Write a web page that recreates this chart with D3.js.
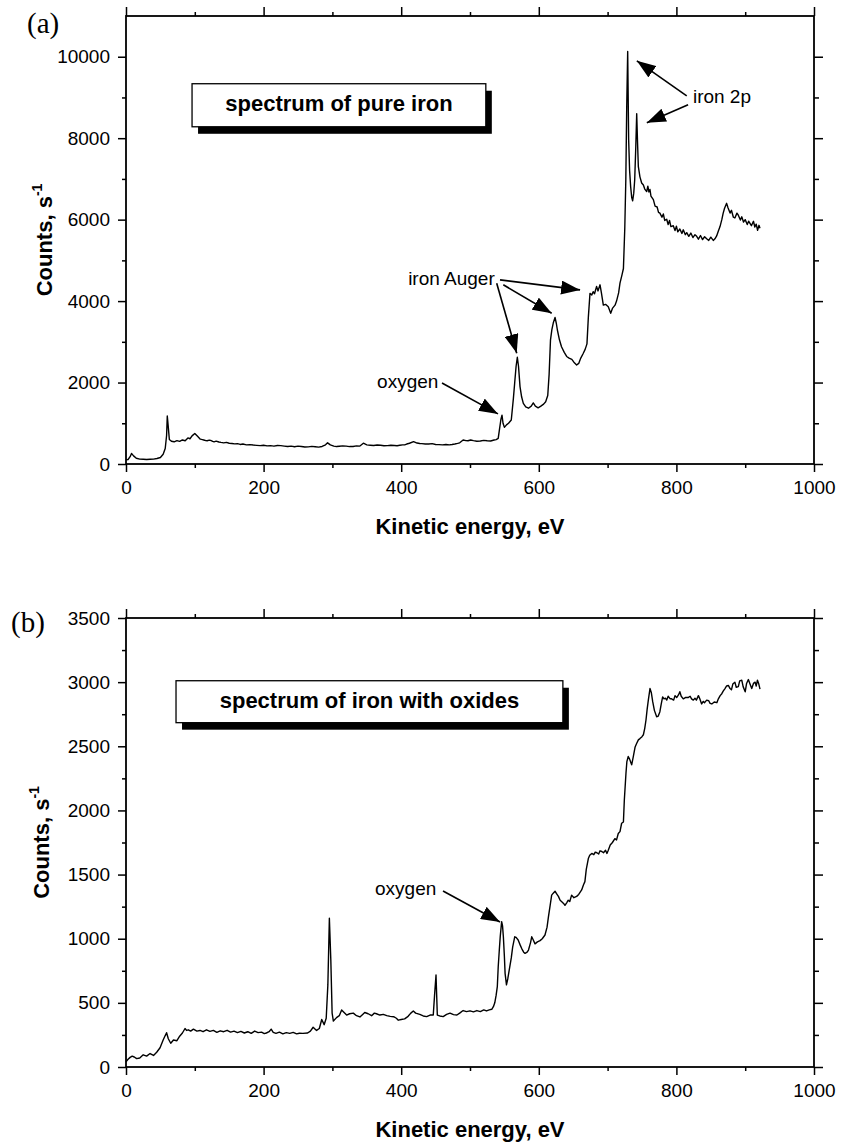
<!DOCTYPE html>
<html>
<head>
<meta charset="utf-8">
<script src="https://cdn.jsdelivr.net/npm/d3@7"></script>
<style>
  html, body { margin: 0; padding: 0; background: #fff; }
  svg { display: block; }
  .tick text { font-family: "Liberation Sans", Arial, sans-serif; font-size: 19px; fill: #000; }
  .tick line { stroke: #000; stroke-width: 1.5; }
</style>
</head>
<body>
<svg id="fig" width="841" height="1148"></svg>
<script>
// ---- Spectrum (a): pure iron — kinetic energy (eV) and count rate (s^-1)
const energyA = [0,3,6,8,11,15,20,25,30,35,40,45,50,54,57,59,60,61.5,63,66,70,74,78,82,86,90,93,96,100,104,108,111,113,116,118,121,123,126,128,131,135,138,142,146,150,154,158,162,166,170,175,180,185,190,195,200,205,210,215,220,225,230,235,240,245,250,255,260,265,270,275,280,285,290,293,297,302,306,310,315,320,325,330,335,340,345,350,355,360,365,370,375,380,385,390,394,398,402,405,408,412,418,423,427,430,435,440,445,450,455,460,465,470,474,478,482,485,490,494,497,501,505,510,515,520,525,530,535,538,541,543,545,546.5,548,550,553,556,560,563,565,567,568.8,570.5,572.7,575,577.5,581,585,589,592,595,599,603,607,610,613,615,617,619,621,623.6,625.5,627,630,633,637,640.5,644,648,651,655,658,661,664.7,667.5,670,672,674.4,677,679,681,684,686,689,691,693.8,697,701,704.5,707,710.8,713,716,718,721,723,725,726.5,727.8,729.2,730.6,732,733.5,735,736.4,738,739.4,741,742.3,743.5,744.7,747,749.5,752,754,756.8,758.5,760,761.6,763,766.5,769,772,774,776,779,781,783,785.9,788,790,792,795.5,798,800,802,805,808,810,813,815,818,821,824,827,829.5,832,835,838,841,844,847,850,853.6,856,858.5,861,863.4,866,868,870,873,875,878,880,882.8,885,888,890,893,895,897.5,900,903,905,907,909,912,914,916,918,920,921.5];
const countsA = [100,110,180,260,200,140,120,115,110,118,120,135,160,240,380,700,1180,900,600,560,545,575,555,590,570,640,620,690,750,680,610,600,590,575,570,585,580,555,545,560,540,530,520,530,510,505,495,500,480,490,470,475,465,458,450,460,445,452,440,455,450,440,430,440,425,438,430,418,420,432,425,415,430,470,520,470,440,428,435,445,440,428,430,445,440,510,470,462,455,465,460,448,450,462,455,448,460,470,470,490,510,550,515,505,500,490,490,500,480,475,470,480,470,478,490,505,520,590,575,570,590,575,560,565,580,570,565,590,600,630,870,1100,1200,1000,900,960,1000,1080,1600,2000,2400,2620,2400,1900,1650,1490,1400,1370,1420,1500,1420,1380,1420,1470,1530,1680,2200,3050,3300,3460,3600,3450,3290,3050,2880,2740,2640,2600,2570,2500,2430,2470,2600,2720,2820,2950,3600,4190,4150,4230,4180,4360,4250,4400,4200,3900,3920,3860,3700,3820,3900,4000,4200,4440,4650,4800,5800,7000,8780,10130,7960,7200,6810,6550,6460,6650,6980,7800,8600,7900,7300,7050,6900,6850,6750,6690,6820,6680,6740,6580,6490,6330,6310,6180,6160,6060,6140,5980,6010,5880,5980,5830,5850,5730,5840,5700,5770,5660,5750,5630,5680,5590,5670,5560,5630,5590,5520,5610,5510,5580,5530,5490,5570,5490,5530,5600,5720,5830,6000,6160,6280,6400,6290,6160,6230,6060,6040,6160,6110,5990,6070,5940,6000,5880,5960,5910,5850,5960,5820,5890,5740,5860,5790];

// ---- Spectrum (b): iron with oxides
const energyB = [0,3,6,9,12,15.5,20,25,30,35,40,44.6,49.5,54,57,59,61.5,65,69,74,78,82,85.8,88,90.6,94,98,103,107.6,112,117,122,127,132,137,142,147,152,157,162,167,172,177,182,187,192,197,201,204,208,211,214,218,223,228,233,238,243,248,252,257,264,268,272,275,277,281,284.5,288,291,293.4,295.6,297.7,299.6,301.4,306,310,313.4,317,320.7,325,330.4,335,340,344,347,352,357,361,364,369,374,379,384,389,393,395.8,400,405,410,414,417.6,421,427,432,437,442,446.6,448.5,450.6,452.5,456,461,466,471,476,481,485,490,495,500,505,510,515,520,524,528,531.6,534,536,538,539.7,541,542.6,544,546,547.3,548.5,550,551,553,555,557,560,562,565,567,570,573,575,578,580,583,585,588,589.7,592,594.5,598,601.8,605,609,612,614,616.5,618.7,621,623.6,626,628.5,631,633,636,638,640.5,642.8,645,647.7,651,655,658,662.3,665,667,669,672,674,677,680,682,684.4,687,689,691.6,694,697,699,701,703.8,707,710.6,713,715.5,718,720.4,723,724.3,726.7,728,730,732,735,737,740,742,744.7,747,750,752,754,755.8,757.5,759.2,761.6,763.5,765.5,768,771.3,773.5,776,778,780,782,784,786,788,791,793,796,798,800.4,803,805,807,810,813,817,820,822,824.6,827,829,832,834,836.7,839,841,844,847,849,851.5,855,858.8,861,863.6,866,868,870.6,873,875.5,878,880,882,885,887,890,892,895,897,900,902,904.6,907,909.5,912,914.4,916,917.8,919.5,921.5];
const countsB = [41,60,75,85,78,65,70,95,85,105,90,115,150,210,245,267,220,185,210,205,240,265,300,285,290,280,295,280,285,275,290,278,285,270,282,275,286,272,280,268,278,265,275,262,280,268,272,260,265,275,295,270,262,272,258,268,262,270,258,263,262,265,280,310,295,285,300,370,330,380,640,1160,835,420,358,385,400,445,425,405,415,420,400,390,410,425,415,400,420,415,405,410,400,395,392,380,365,370,375,395,420,437,420,410,398,393,405,405,560,717,405,398,393,410,420,408,405,420,440,432,438,430,440,432,445,437,445,450,470,500,560,626,780,912,1020,1133,1100,1015,860,730,640,690,755,850,935,1015,1010,990,950,925,895,886,895,912,970,1015,990,960,975,985,1000,1029,1090,1170,1260,1340,1355,1370,1350,1330,1300,1290,1275,1260,1280,1300,1290,1340,1320,1330,1345,1380,1420,1445,1540,1625,1650,1665,1655,1675,1670,1660,1685,1680,1670,1690,1665,1690,1730,1750,1780,1770,1820,1835,1900,1910,2080,2290,2380,2420,2400,2355,2410,2495,2520,2550,2560,2575,2590,2640,2705,2790,2860,2950,2920,2850,2780,2730,2735,2770,2830,2885,2870,2875,2860,2890,2870,2870,2860,2895,2880,2900,2925,2890,2870,2880,2880,2890,2870,2860,2875,2860,2895,2870,2830,2850,2840,2860,2855,2835,2830,2845,2840,2870,2895,2910,2930,2950,2970,2975,2950,2940,2985,3000,2960,2965,3010,3015,2965,2925,2990,3020,2985,2950,2990,3000,2970,3015,2990,2945];

// ---- Axis tick values
const xMajorTicks = [0, 200, 400, 600, 800, 1000];
const xMinorTicks = [100, 300, 500, 700, 900];
const yMajorTicksA = [0, 2000, 4000, 6000, 8000, 10000];
const yMinorTicksA = [1000, 3000, 5000, 7000, 9000];
const yMajorTicksB = [0, 500, 1000, 1500, 2000, 2500, 3000, 3500];
const yMinorTicksB = [250, 750, 1250, 1750, 2250, 2750, 3250];

// ---- Annotations: [label, text x (eV), text baseline (counts), anchor]
const notesA = [
  ["iron 2p", 824, 8870, "start"],
  ["iron Auger", 536, 4400, "end"],
  ["oxygen", 365, 1870, "start"]
];
// arrows: [tail eV, tail counts, tip eV, tip counts]
const arrowsA = [
  [815, 9040, 742.5, 9900],
  [817, 8820, 757, 8380],
  [543.6, 4520, 660, 4275],
  [548.4, 4400, 618.7, 3700],
  [538.8, 4440, 567.9, 2720],
  [459.3, 1990, 540.7, 1230]
];
const notesB = [
  ["oxygen", 362, 1341, "start"]
];
const arrowsB = [
  [460.8, 1372, 543.6, 1130]
];

const FONT = '"Liberation Sans", Arial, Helvetica, sans-serif';
const svg = d3.select("#fig");
svg.append("rect").attr("width", 841).attr("height", 1148).attr("fill", "#fff");

const defs = svg.append("defs");
defs.append("marker")
  .attr("id", "head")
  .attr("markerUnits", "userSpaceOnUse")
  .attr("markerWidth", 20).attr("markerHeight", 14)
  .attr("refX", 19).attr("refY", 7)
  .attr("orient", "auto")
  .append("path")
  .attr("d", "M0,0 L19,7 L0,14 Z")
  .attr("fill", "#000");

function drawPanel(cfg) {
  const { left, right, top, bottom } = cfg;
  const x = d3.scaleLinear().domain([0, 1000]).range([left, right]);
  const y = d3.scaleLinear().domain(cfg.yDomain).range([bottom, top]);
  const g = svg.append("g");

  // ticks on all four sides (outward)
  const noLabel = () => "";
  const addAxis = (axis, tr) => {
    const a = g.append("g").attr("transform", tr).call(axis);
    a.select(".domain").remove();
    return a;
  };
  addAxis(d3.axisBottom(x).tickValues(xMajorTicks).tickSize(8).tickPadding(9).tickFormat(d3.format("d")), `translate(0,${bottom})`);
  addAxis(d3.axisBottom(x).tickValues(xMinorTicks).tickSize(4).tickFormat(noLabel), `translate(0,${bottom})`);
  addAxis(d3.axisTop(x).tickValues(xMajorTicks).tickSize(9).tickFormat(noLabel), `translate(0,${top})`);
  addAxis(d3.axisTop(x).tickValues(xMinorTicks).tickSize(4).tickFormat(noLabel), `translate(0,${top})`);
  addAxis(d3.axisLeft(y).tickValues(cfg.yMajor).tickSize(8).tickPadding(8).tickFormat(d3.format("d")), `translate(${left},0)`);
  addAxis(d3.axisLeft(y).tickValues(cfg.yMinor).tickSize(4).tickFormat(noLabel), `translate(${left},0)`);
  addAxis(d3.axisRight(y).tickValues(cfg.yMajor).tickSize(9).tickFormat(noLabel), `translate(${right},0)`);
  addAxis(d3.axisRight(y).tickValues(cfg.yMinor).tickSize(5).tickFormat(noLabel), `translate(${right},0)`);

  // frame
  g.append("rect")
    .attr("x", left).attr("y", top)
    .attr("width", right - left).attr("height", bottom - top)
    .attr("fill", "none").attr("stroke", "#000").attr("stroke-width", 1.8);

  // spectrum trace
  const pts = cfg.energy.map((e, i) => [e, cfg.counts[i]]);
  g.append("path")
    .datum(pts)
    .attr("d", d3.line().x(d => x(d[0])).y(d => y(d[1])))
    .attr("fill", "none").attr("stroke", "#000").attr("stroke-width", 1.4)
    .attr("stroke-linejoin", "round");

  // title box with drop shadow
  const bx0 = x(cfg.box[0]), bx1 = x(cfg.box[1]);
  const by0 = y(cfg.box[2]), by1 = y(cfg.box[3]);
  g.append("rect").attr("x", bx0 + 6).attr("y", by0 + 7)
    .attr("width", bx1 - bx0).attr("height", by1 - by0).attr("fill", "#000");
  g.append("rect").attr("x", bx0).attr("y", by0)
    .attr("width", bx1 - bx0).attr("height", by1 - by0)
    .attr("fill", "#fff").attr("stroke", "#000").attr("stroke-width", 1.3);
  g.append("text")
    .attr("x", (bx0 + bx1) / 2).attr("y", by0 + 27)
    .attr("text-anchor", "middle")
    .attr("font-family", FONT).attr("font-weight", "bold").attr("font-size", 22)
    .text(cfg.boxText);

  // annotations
  cfg.notes.forEach(([t, ex, cy, anchor]) => {
    g.append("text").attr("x", x(ex)).attr("y", y(cy))
      .attr("text-anchor", anchor)
      .attr("font-family", FONT).attr("font-size", 19)
      .text(t);
  });
  cfg.arrows.forEach(([e0, c0, e1, c1]) => {
    g.append("line")
      .attr("x1", x(e0)).attr("y1", y(c0))
      .attr("x2", x(e1)).attr("y2", y(c1))
      .attr("stroke", "#000").attr("stroke-width", 1.6)
      .attr("marker-end", "url(#head)");
  });

  // axis titles
  g.append("text")
    .attr("x", (left + right) / 2).attr("y", bottom + 70)
    .attr("text-anchor", "middle")
    .attr("font-family", FONT).attr("font-weight", "bold").attr("font-size", 22)
    .text("Kinetic energy, eV");
  const yt = g.append("text")
    .attr("transform", `translate(${cfg.yTitleX},${(top + bottom) / 2}) rotate(-90)`)
    .attr("text-anchor", "middle")
    .attr("font-family", FONT).attr("font-weight", "bold").attr("font-size", 22);
  yt.append("tspan").text("Counts, s");
  yt.append("tspan").attr("dy", -10).attr("font-size", 14).text("-1");

  // panel letter
  g.append("text")
    .attr("x", cfg.letterX).attr("y", cfg.letterY)
    .attr("font-family", '"Liberation Serif", "Times New Roman", serif')
    .attr("font-size", 29)
    .text(cfg.letter);
}

drawPanel({
  left: 126, right: 814, top: 16, bottom: 464,
  yDomain: [0, 11000], yMajor: yMajorTicksA, yMinor: yMinorTicksA,
  energy: energyA, counts: countsA,
  box: [96, 523, 9337, 8280], boxText: "spectrum of pure iron",
  notes: notesA, arrows: arrowsA,
  yTitleX: 52, letter: "(a)", letterX: 27, letterY: 33
});

drawPanel({
  left: 126, right: 814, top: 618, bottom: 1067,
  yDomain: [0, 3500], yMajor: yMajorTicksB, yMinor: yMinorTicksB,
  energy: energyB, counts: countsB,
  box: [72.7, 635, 3011, 2684], boxText: "spectrum of iron with oxides",
  notes: notesB, arrows: arrowsB,
  yTitleX: 49, letter: "(b)", letterX: 11, letterY: 632
});
</script>
</body>
</html>
